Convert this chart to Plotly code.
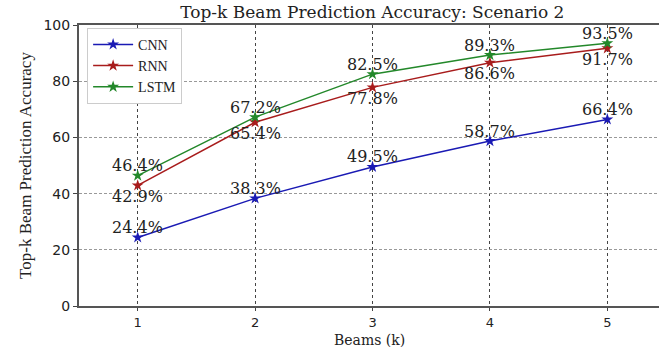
import plotly.graph_objects as go

beams = [1, 2, 3, 4, 5]
cnn = [24.4, 38.3, 49.5, 58.7, 66.4]
rnn = [42.9, 65.4, 77.8, 86.6, 91.7]
lstm = [46.4, 67.2, 82.5, 89.3, 93.5]
y_ticks = [0, 20, 40, 60, 80, 100]

series = [
    ("CNN", cnn, "#1a1ab4", 10),
    ("RNN", rnn, "#a81c1c", -11),
    ("LSTM", lstm, "#23882a", 10),
]

fig = go.Figure()
annotations = []
for name, vals, color, shift in series:
    fig.add_trace(go.Scatter(
        x=beams, y=vals, name=name, mode="lines+markers",
        line=dict(color=color, width=1.5),
        marker=dict(symbol="star", size=9, color=color),
    ))
    for xv, yv in zip(beams, vals):
        annotations.append(dict(
            x=xv, y=yv, text=f"{yv:.1f}%", showarrow=False,
            xanchor="center", yanchor="middle", yshift=shift,
            font=dict(family="DejaVu Serif", size=16, color="#222"),
        ))

# x-axis title placed under the tick labels
annotations.append(dict(
    text="Beams (k)", xref="paper", yref="paper", x=0.5, y=0,
    xanchor="center", yanchor="top", yshift=-24, showarrow=False,
    font=dict(family="DejaVu Serif", size=14, color="#222"),
))

fig.update_layout(
    width=659, height=347,
    margin=dict(l=79, r=0, t=25, b=41, autoexpand=False),
    paper_bgcolor="white", plot_bgcolor="white",
    title=dict(text="Top-k Beam Prediction Accuracy: Scenario 2",
               x=0.565, xanchor="center", y=0.965, yanchor="middle",
               font=dict(family="DejaVu Serif", size=17, color="#222")),
    showlegend=True,
    legend=dict(x=0.014, y=0.99, xanchor="left", yanchor="top",
                bgcolor="white", bordercolor="#cccccc", borderwidth=1,
                font=dict(family="Liberation Serif", size=14, color="#222"),
                tracegroupgap=0, itemwidth=40),
    annotations=annotations,
)
fig.update_xaxes(
    range=[0.5, 5.44], tickvals=beams, ticks="outside", ticklen=3,
    tickfont=dict(family="DejaVu Sans", size=13, color="#222"),
    showline=True, linecolor="#555", linewidth=2, mirror=True,
    showgrid=True, gridcolor="#444", griddash="dot", gridwidth=1,
    zeroline=False, automargin=False,
)
fig.update_yaxes(
    range=[0, 100], tickvals=y_ticks, ticks="outside", ticklen=4,
    tickfont=dict(family="DejaVu Sans", size=14, color="#222"),
    showline=True, linecolor="#555", linewidth=2,
    showgrid=True, gridcolor="#999", griddash="3px,2px", gridwidth=1,
    zeroline=False, automargin=False,
    title=dict(text="Top-k Beam Prediction Accuracy", standoff=8,
               font=dict(family="Liberation Serif", size=17, color="#222")),
)

fig.write_html("out.html")
